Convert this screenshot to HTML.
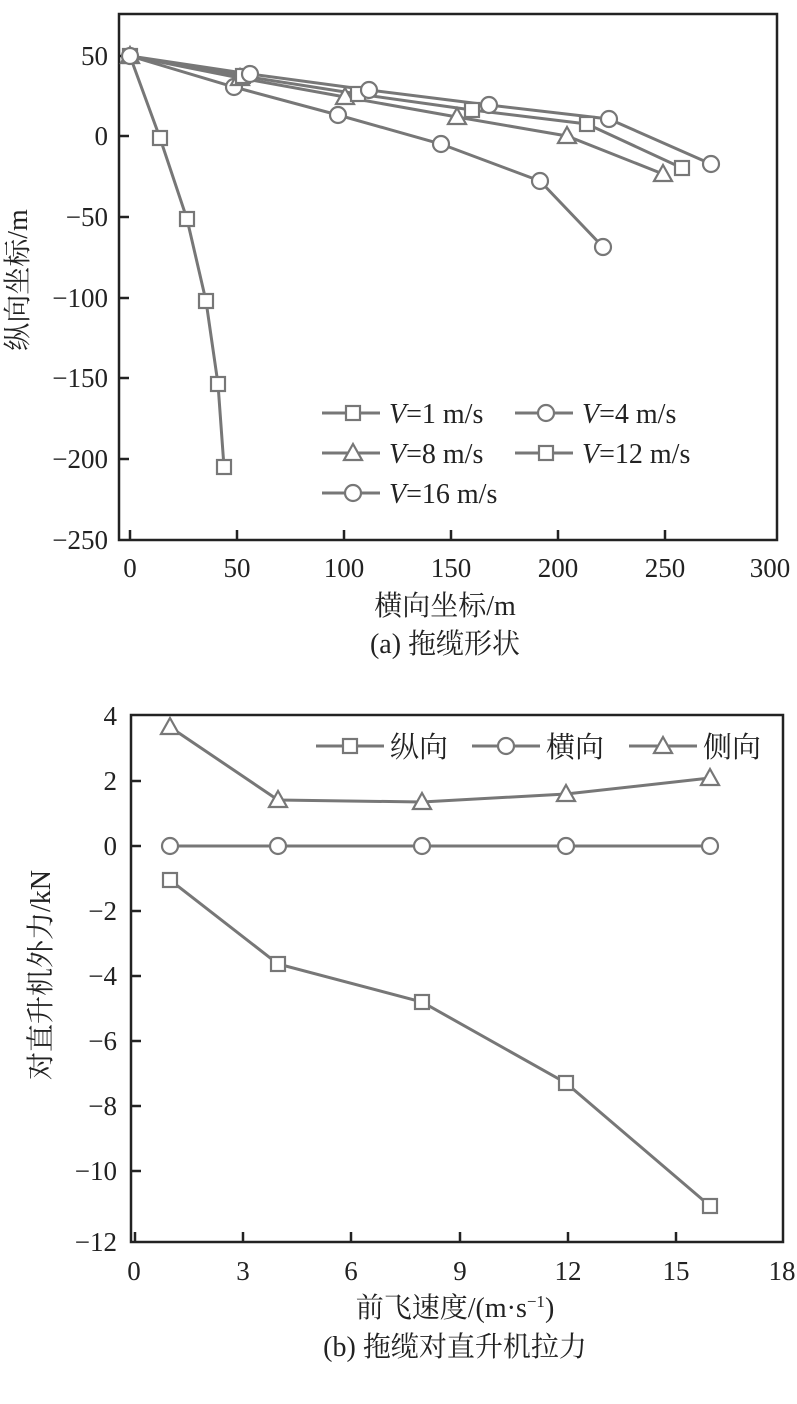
<!DOCTYPE html>
<html><head><meta charset="utf-8"><style>
html,body{margin:0;padding:0;background:#fff;}
svg text{font-family:"Liberation Serif","Noto Serif CJK SC","Noto Sans CJK SC",serif;fill:#222;}
</style></head><body>
<svg width="797" height="1399" viewBox="0 0 797 1399" xmlns="http://www.w3.org/2000/svg">
<defs>
<g id="sq"><rect x="-7" y="-7" width="14" height="14" fill="#fff" stroke="#777" stroke-width="2.2"/></g>
<g id="ci"><circle r="8" fill="#fff" stroke="#777" stroke-width="2.2"/></g>
<g id="tr"><path d="M0,-9 L9,7 L-9,7 Z" fill="#fff" stroke="#777" stroke-width="2.2"/></g>
</defs>
<!-- TOP CHART -->
<rect x="119" y="14" width="658" height="526" fill="none" stroke="#222" stroke-width="2.5"/>
<g stroke="#222" stroke-width="2.5">
<line x1="119" y1="56" x2="129" y2="56"/><line x1="119" y1="136" x2="129" y2="136"/><line x1="119" y1="217" x2="129" y2="217"/><line x1="119" y1="298" x2="129" y2="298"/><line x1="119" y1="378" x2="129" y2="378"/><line x1="119" y1="459" x2="129" y2="459"/>
<line x1="130" y1="540" x2="130" y2="530"/><line x1="237" y1="540" x2="237" y2="530"/><line x1="344" y1="540" x2="344" y2="530"/><line x1="451" y1="540" x2="451" y2="530"/><line x1="558" y1="540" x2="558" y2="530"/><line x1="665" y1="540" x2="665" y2="530"/>
</g>
<g font-size="27" text-anchor="end">
<text x="108" y="65">50</text><text x="108" y="145">0</text><text x="108" y="226">−50</text><text x="108" y="307">−100</text><text x="108" y="387">−150</text><text x="108" y="468">−200</text><text x="108" y="549">−250</text>
</g>
<g font-size="27" text-anchor="middle">
<text x="130" y="577">0</text><text x="237" y="577">50</text><text x="344" y="577">100</text><text x="451" y="577">150</text><text x="558" y="577">200</text><text x="665" y="577">250</text><text x="770" y="577">300</text>
<text x="445" y="615" font-size="28">横向坐标/m</text>
<text x="445" y="653" font-size="28">(a) 拖缆形状</text>
<text transform="translate(27,280) rotate(-90)" font-size="28">纵向坐标/m</text>
</g>
<g fill="none" stroke="#777" stroke-width="3">
<polyline points="130,56 160,138 187,219 206,301 218,384 224,467"/>
<polyline points="130,56 234,87 338,115 441,144 540,181 603,247"/>
<polyline points="130,56 240,78 345,97 457,117 567,136 663,174"/>
<polyline points="130,56 243,76 358,94 472,110 587,124 682,168"/>
<polyline points="130,56 250,74 369,90 489,105 609,119 711,164"/>
</g>
<use href="#sq" x="160" y="138"/><use href="#sq" x="187" y="219"/><use href="#sq" x="206" y="301"/><use href="#sq" x="218" y="384"/><use href="#sq" x="224" y="467"/>
<use href="#ci" x="234" y="87"/><use href="#ci" x="338" y="115"/><use href="#ci" x="441" y="144"/><use href="#ci" x="540" y="181"/><use href="#ci" x="603" y="247"/>
<use href="#tr" x="240" y="78"/><use href="#tr" x="345" y="97"/><use href="#tr" x="457" y="117"/><use href="#tr" x="567" y="136"/><use href="#tr" x="663" y="174"/>
<use href="#sq" x="243" y="76"/><use href="#sq" x="358" y="94"/><use href="#sq" x="472" y="110"/><use href="#sq" x="587" y="124"/><use href="#sq" x="682" y="168"/>
<use href="#ci" x="250" y="74"/><use href="#ci" x="369" y="90"/><use href="#ci" x="489" y="105"/><use href="#ci" x="609" y="119"/><use href="#ci" x="711" y="164"/>
<use href="#sq" x="130" y="56"/><use href="#tr" x="130" y="56"/><use href="#ci" x="130" y="56"/>
<!-- legend top -->
<g stroke="#777" stroke-width="3">
<line x1="322" y1="413" x2="380" y2="413"/><line x1="515" y1="413" x2="573" y2="413"/>
<line x1="322" y1="453" x2="380" y2="453"/><line x1="515" y1="453" x2="573" y2="453"/>
<line x1="322" y1="493" x2="380" y2="493"/>
</g>
<use href="#sq" x="353" y="413"/><use href="#ci" x="546" y="413"/><use href="#tr" x="353" y="453"/><use href="#sq" x="546" y="453"/><use href="#ci" x="353" y="493"/>
<g font-size="28">
<text x="389" y="423"><tspan font-style="italic">V</tspan>=1 m/s</text>
<text x="582" y="423"><tspan font-style="italic">V</tspan>=4 m/s</text>
<text x="389" y="463"><tspan font-style="italic">V</tspan>=8 m/s</text>
<text x="582" y="463"><tspan font-style="italic">V</tspan>=12 m/s</text>
<text x="389" y="503"><tspan font-style="italic">V</tspan>=16 m/s</text>
</g>
<!-- BOTTOM CHART -->
<rect x="131" y="715" width="652" height="527" fill="none" stroke="#222" stroke-width="2.5"/>
<g stroke="#222" stroke-width="2.5">
<line x1="131" y1="781" x2="141" y2="781"/><line x1="131" y1="846" x2="141" y2="846"/><line x1="131" y1="911" x2="141" y2="911"/><line x1="131" y1="976" x2="141" y2="976"/><line x1="131" y1="1041" x2="141" y2="1041"/><line x1="131" y1="1106" x2="141" y2="1106"/><line x1="131" y1="1171" x2="141" y2="1171"/>
<line x1="135" y1="1242" x2="135" y2="1232"/><line x1="243" y1="1242" x2="243" y2="1232"/><line x1="351" y1="1242" x2="351" y2="1232"/><line x1="460" y1="1242" x2="460" y2="1232"/><line x1="568" y1="1242" x2="568" y2="1232"/><line x1="676" y1="1242" x2="676" y2="1232"/>
</g>
<g font-size="27" text-anchor="end">
<text x="117" y="725">4</text><text x="117" y="790">2</text><text x="117" y="855">0</text><text x="117" y="920">−2</text><text x="117" y="985">−4</text><text x="117" y="1050">−6</text><text x="117" y="1115">−8</text><text x="117" y="1180">−10</text><text x="117" y="1251">−12</text>
</g>
<g font-size="27" text-anchor="middle">
<text x="134" y="1280">0</text><text x="243" y="1280">3</text><text x="351" y="1280">6</text><text x="460" y="1280">9</text><text x="568" y="1280">12</text><text x="676" y="1280">15</text><text x="782" y="1280">18</text>
<text x="455" y="1317" font-size="28">前飞速度/(m·s<tspan font-size="17" dy="-10">−1</tspan><tspan dy="10">)</tspan></text>
<text x="455" y="1356" font-size="28">(b) 拖缆对直升机拉力</text>
<text transform="translate(50,975) rotate(-90)" font-size="28">对直升机外力/kN</text>
</g>
<g fill="none" stroke="#777" stroke-width="3">
<polyline points="170,727 278,800 422,802 566,794 710,778"/>
<polyline points="170,846 278,846 422,846 566,846 710,846"/>
<polyline points="170,880 278,964 422,1002 566,1083 710,1206"/>
</g>
<use href="#tr" x="170" y="727"/><use href="#tr" x="278" y="800"/><use href="#tr" x="422" y="802"/><use href="#tr" x="566" y="794"/><use href="#tr" x="710" y="778"/>
<use href="#ci" x="170" y="846"/><use href="#ci" x="278" y="846"/><use href="#ci" x="422" y="846"/><use href="#ci" x="566" y="846"/><use href="#ci" x="710" y="846"/>
<use href="#sq" x="170" y="880"/><use href="#sq" x="278" y="964"/><use href="#sq" x="422" y="1002"/><use href="#sq" x="566" y="1083"/><use href="#sq" x="710" y="1206"/>
<g stroke="#777" stroke-width="3">
<line x1="316" y1="746" x2="384" y2="746"/><line x1="472" y1="746" x2="540" y2="746"/><line x1="629" y1="746" x2="697" y2="746"/>
</g>
<use href="#sq" x="350" y="746"/><use href="#ci" x="506" y="746"/><use href="#tr" x="663" y="746"/>
<g font-size="29">
<text x="390" y="757">纵向</text><text x="546" y="757">横向</text><text x="703" y="757">侧向</text>
</g>
</svg>
</body></html>
